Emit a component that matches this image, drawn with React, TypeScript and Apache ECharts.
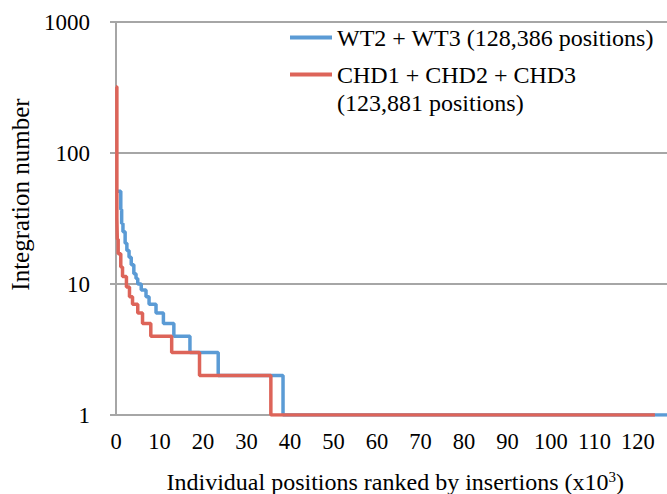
import React, { useEffect, useRef } from "react";
import * as echarts from "echarts";

const wtName = "WT2 + WT3 (128,386 positions)";
const chdName = "CHD1 + CHD2 + CHD3 (123,881 positions)";

// [rank x10^3, integration number]
const wtSteps: [number, number][] = [
  [0, 51], [1.1, 37], [1.3, 29], [1.6, 25], [2.1, 20.5], [2.5, 18], [3.0, 16],
  [3.5, 14], [4.1, 12], [4.6, 11], [5.0, 10], [5.8, 9], [6.9, 8], [7.6, 7],
  [9.2, 6], [10.9, 5], [13.3, 4], [17.0, 3], [23.5, 2], [38.4, 1], [128.4, 1],
];
const chdSteps: [number, number][] = [
  [0, 320], [0.2, 32], [0.3, 22], [0.5, 17], [1.1, 13.5], [1.5, 11.4], [2.4, 9.5],
  [3.1, 8], [3.8, 7], [5.0, 6], [6.1, 5], [8.0, 4], [12.8, 3], [19.2, 2],
  [35.6, 1], [123.9, 1],
];
const xTicks = [0, 10, 20, 30, 40, 50, 60, 70, 80, 90, 100, 110, 120];
const yTicks = [1, 10, 100, 1000];

const FONT = "Liberation Serif";

export default function App() {
  const ref = useRef<HTMLDivElement>(null);
  useEffect(() => {
    if (!ref.current) return;
    const chart = echarts.init(ref.current, null, { renderer: "svg" });
    chart.setOption({
      animation: false,
      textStyle: { fontFamily: FONT },
      grid: { left: 116, top: 22, width: 558.5, height: 393, outerBoundsMode: "none", containLabel: false },
      legend: {
        orient: "vertical",
        left: 290,
        top: 21,
        padding: 0,
        itemWidth: 42,
        itemHeight: 4,
        itemGap: 4,
        icon: "rect",
        data: [wtName, chdName],
        formatter: (n: string) => (n === chdName ? "CHD1 + CHD2 + CHD3" : n),
        textStyle: { fontFamily: FONT, fontSize: 24, lineHeight: 24, color: "#000", padding: [9, 0, 0, 0] },
      },
      graphic: [
        {
          type: "text",
          left: 337,
          top: 91,
          style: { text: "(123,881 positions)", fontFamily: FONT, fontSize: 24, lineHeight: 24, fill: "#000" },
        },
      ],
      xAxis: {
        type: "value",
        min: 0,
        max: 128.4,
        interval: 10,
        splitLine: { show: false },
        axisLine: { lineStyle: { color: "#a6a6a6", width: 2 } },
        axisTick: { show: false },
        axisLabel: {
          fontFamily: FONT,
          fontSize: 22.5,
          color: "#000",
          margin: 15,
          showMaxLabel: false,
          formatter: (v: number) => (xTicks.includes(v) ? String(v) : ""),
        },
        name: "Individual positions ranked by insertions (x10{sup|3})",
        nameLocation: "middle",
        nameGap: 54,
        nameTextStyle: {
          fontFamily: FONT,
          fontSize: 24,
          color: "#000",
          rich: { sup: { fontFamily: FONT, fontSize: 15, color: "#000", verticalAlign: "top", padding: [0, 0, 10, 0] } },
        },
      },
      yAxis: {
        type: "log",
        logBase: 10,
        min: 1,
        max: 1000,
        axisLine: { show: true, lineStyle: { color: "#a6a6a6", width: 2 } },
        axisTick: { show: true, length: 6, lineStyle: { color: "#a6a6a6", width: 2 } },
        splitLine: { show: true, lineStyle: { color: "#a6a6a6", width: 2 } },
        axisLabel: {
          fontFamily: FONT,
          fontSize: 23,
          color: "#000",
          margin: 26,
          formatter: (v: number) => (yTicks.includes(Math.round(v)) ? String(Math.round(v)) : ""),
        },
        name: "Integration number",
        nameLocation: "middle",
        nameGap: 83,
        nameTextStyle: { fontFamily: FONT, fontSize: 25, color: "#000", padding: [0, 0, 0, 48] },
      },
      series: [
        {
          name: wtName,
          type: "line",
          step: "end",
          symbol: "none",
          data: wtSteps,
          lineStyle: { color: "#5b9bd5", width: 3.5 },
          itemStyle: { color: "#5b9bd5" },
          z: 3,
        },
        {
          name: chdName,
          type: "line",
          step: "end",
          symbol: "none",
          data: chdSteps,
          lineStyle: { color: "#dd6459", width: 3.5 },
          itemStyle: { color: "#dd6459" },
          z: 4,
        },
      ],
    });
    return () => chart.dispose();
  }, []);
  return (
    <div
      ref={ref}
      style={{ position: "absolute", left: 0, top: 0, width: 667, height: 494 }}
    />
  );
}
